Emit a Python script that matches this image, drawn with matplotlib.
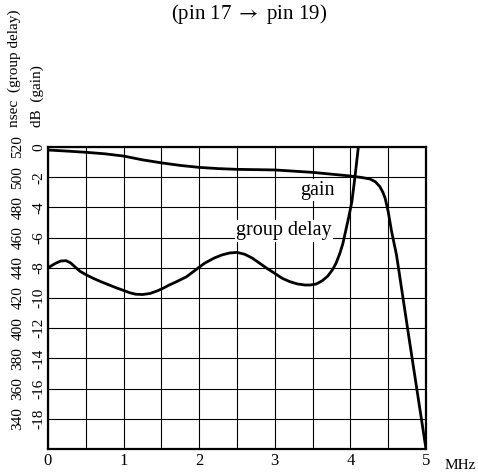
import matplotlib
matplotlib.use("Agg")
import matplotlib.pyplot as plt
import numpy as np

plt.rcParams['font.family'] = ['Liberation Serif', 'DejaVu Serif']
plt.rcParams['mathtext.fontset'] = 'stix'

# ---- data ----
title = r"(pin 17 $\rightarrow$ pin 19)"
x_ticks = [0, 1, 2, 3, 4, 5]
db_ticks = [0, -2, -4, -6, -8, -10, -12, -14, -16, -18]
ns_ticks = [520, 500, 480, 460, 440, 420, 400, 380, 360, 340]

gain_f = [0.0, 0.25, 0.5, 0.75, 1.0, 1.25, 1.5, 1.75, 2.0, 2.25, 2.5, 2.75,
          3.0, 3.25, 3.5, 3.75, 4.0, 4.15, 4.26, 4.33, 4.39, 4.43, 4.46,
          4.50, 4.545, 4.61, 4.78, 5.0]
gain_db = [-0.2, -0.27, -0.35, -0.45, -0.6, -0.85, -1.05, -1.22, -1.35,
           -1.43, -1.48, -1.5, -1.52, -1.6, -1.68, -1.8, -1.92, -2.02, -2.12,
           -2.3, -2.63, -3.0, -3.4, -4.28, -5.6, -7.15, -12.8, -20.0]

gd_f = [0.0, 0.05, 0.1, 0.17, 0.24, 0.3, 0.36, 0.42, 0.5, 0.6, 0.7, 0.8,
        0.9, 1.0, 1.08, 1.16, 1.25, 1.35, 1.45, 1.52, 1.6, 1.7, 1.83, 1.95,
        2.07, 2.2, 2.3, 2.4, 2.5, 2.6, 2.7, 2.8, 2.9, 3.0, 3.1, 3.2, 3.3,
        3.4, 3.47, 3.55, 3.63, 3.7, 3.76, 3.81, 3.86, 3.9, 3.94, 3.98, 4.02,
        4.06, 4.105]
gd_ns = [440, 441.5, 443, 444.5, 444.7, 443.2, 440.5, 437.8, 435.5, 433,
         430.8, 428.8, 426.8, 425.0, 423.5, 422.5, 422.3, 423, 424.8, 426.4,
         428.5, 430.8, 434, 438.5, 443, 446.5, 448.5, 449.8, 450.2, 449,
         446.5, 443, 439.5, 436.3, 433, 430.8, 429.3, 428.6, 428.6, 429.3,
         431.5, 434.5, 438.5, 443, 449.5, 456, 465, 474, 484, 500, 520]


def ns_to_db(n):
    return (np.asarray(n, dtype=float) - 520.0) / 10.0


def db_to_ns(d):
    return 520.0 + 10.0 * np.asarray(d, dtype=float)


W, H = 478, 473
fig = plt.figure(figsize=(W / 100, H / 100), dpi=100)
L, R, T, B = 48, 426, 147, 449
ax = fig.add_axes([L / W, 1 - B / H, (R - L) / W, (B - T) / H])

ax.set_xlim(0, 5)
ax.set_ylim(-20, 0)
ax.set_xticks(x_ticks)
ax.set_xticks(np.arange(0.5, 5, 1.0), minor=True)
ax.set_yticks(db_ticks + [-20])
ax.set_yticklabels([str(v) for v in db_ticks] + [""])
ax.set_xticklabels([str(v) for v in x_ticks])
ax.tick_params(axis='both', which='both', length=0)
ax.tick_params(axis='x', pad=3.2, labelsize=12)
ax.tick_params(axis='y', pad=2.0, labelsize=11)
for lab in ax.get_yticklabels():
    lab.set_rotation(90)
    lab.set_va('center')
    lab.set_ha('right')

ax.grid(True, which='both', color='black', linewidth=0.8)
ax.set_axisbelow(True)
for s in ax.spines.values():
    s.set_linewidth(1.6)
    s.set_color('black')

sec = ax.secondary_yaxis('left', functions=(db_to_ns, ns_to_db))
sec.set_yticks(ns_ticks)
sec.set_yticklabels([str(v) for v in ns_ticks])
sec.tick_params(axis='y', length=0, pad=17, labelsize=11)
sec.spines['left'].set_visible(False)
for lab in sec.get_yticklabels():
    lab.set_rotation(90)
    lab.set_va('center')
    lab.set_ha('right')

ax.plot(gain_f, gain_db, color='black', linewidth=2.0, zorder=5,
        solid_joinstyle='round', solid_capstyle='round')
ax.plot(gd_f, ns_to_db(gd_ns), color='black', linewidth=2.0, zorder=5,
        solid_joinstyle='round', solid_capstyle='round')

box = dict(facecolor='white', edgecolor='none', pad=1.0)
ax.text(3.56, -2.85, "gain", fontsize=14.5, ha='center', va='center',
        bbox=box, zorder=3)
ax.text(3.12, -5.55, "group delay", fontsize=14.5, ha='center', va='center',
        bbox=box, zorder=3)

fig.text(249 / W, 1 - 14 / H, title, fontsize=15, ha='center', va='center')
fig.text(445 / W, 1 - 465 / H, "MHz", fontsize=11, ha='left', va='center')
fig.text(37 / W, 1 - 127 / H, "dB  (gain)", fontsize=11, rotation=90,
         ha='center', va='bottom')
fig.text(14 / W, 1 - 127 / H, "nsec  (group delay)", fontsize=11, rotation=90,
         ha='center', va='bottom')

fig.savefig("out.png", dpi=100)
